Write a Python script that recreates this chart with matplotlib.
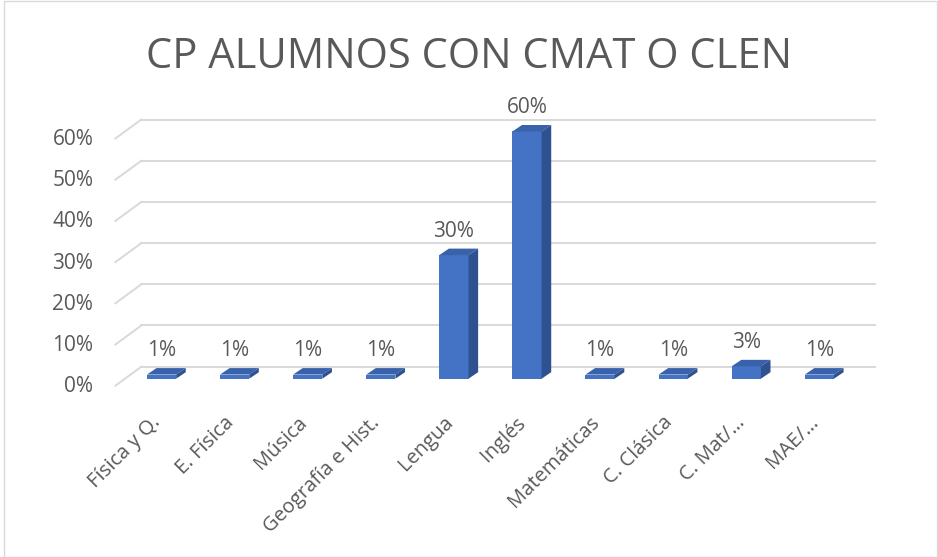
import matplotlib.pyplot as plt
from matplotlib.patches import Polygon, Rectangle

plt.rcParams['font.family'] = ['Open Sans', 'DejaVu Sans']

# data (percent of students)
categories = ['Física y Q.', 'E. Física', 'Música', 'Geografía e Hist.', 'Lengua',
              'Inglés', 'Matemáticas', 'C. Clásica', 'C. Mat/…', 'MAE/…']
values = [1, 1, 1, 1, 30, 60, 1, 1, 3, 1]
y_ticks = [0, 10, 20, 30, 40, 50, 60]

title = 'CP ALUMNOS CON CMAT O CLEN'
text_col = '#595959'
grid_col = '#d9d9d9'
front_col = '#4472C4'
top_col = '#3A62AB'
side_col = '#2E5290'

W, H = 938, 557
fig = plt.figure(figsize=(W / 100, H / 100), dpi=100)
ax = fig.add_axes([106.7 / W, (H - 378.7) / H, 767.5 / W, 247.2 / H])
ax.set_xlim(-0.75, 9.75)
ax.set_ylim(0, 60)
ax.axis('off')

# pixels per data unit, used for the fake 3d depth
p0 = ax.transData.transform((0, 0))
p1 = ax.transData.transform((1, 1))
kx, ky = p1[0] - p0[0], p1[1] - p0[1]


def px(x, y, dx, dy):
    return x + dx / kx, y + dy / ky


# back wall grid and left floor diagonals
back = (16.4, 12)
front = (-9.6, -7)
for v in y_ticks:
    x0, y0 = px(-0.5, v, *back)
    x1, y1 = px(9.53, v, *back)
    ax.plot([x0, x1], [y0, y1], color=grid_col, lw=1.4, clip_on=False, zorder=1)
    x2, y2 = px(-0.5, v, *front)
    ax.plot([x2, x0], [y2, y0], color=grid_col, lw=1.4, clip_on=False, zorder=1)
    tx, ty = px(-0.5, v, front[0] - 22, front[1] - 1)
    ax.text(tx, ty, f'{v}%', ha='right', va='center', fontsize=15, color=text_col)

# bars with a top and a side face
w = 0.40
bd = (9.6, 6.5)
xs = list(range(len(categories)))
ax.bar(xs, values, width=w, color=front_col, clip_on=False, zorder=3)
for x, v in zip(xs, values):
    l, r = x - w / 2, x + w / 2
    top = [(l, v), (r, v), px(r, v, *bd), px(l, v, *bd)]
    side = [(r, 0), px(r, 0, *bd), px(r, v, *bd), (r, v)]
    ax.add_patch(Polygon(top, closed=True, fc=top_col, ec='none', zorder=3, clip_on=False))
    ax.add_patch(Polygon(side, closed=True, fc=side_col, ec='none', zorder=3, clip_on=False))
    ax.annotate(f'{v}%', (x, v), xytext=(0, 24), textcoords='offset pixels',
                ha='center', va='center', fontsize=15, color=text_col)

# category labels along the front edge
for x, name in zip(xs, categories):
    ax.annotate(name, (x, 0), xytext=(-4, -41), textcoords='offset pixels',
                ha='right', va='center', rotation=45, rotation_mode='anchor',
                fontsize=14.5, color=text_col)

fig.text(0.5, 1 - 68 / H, title, ha='center', va='baseline', fontsize=30, color=text_col)

fig.patches.append(Rectangle((3.5 / W, 0.5 / H), (W - 5) / W, (H - 1.5) / H,
                             transform=fig.transFigure, fill=False, ec=grid_col, lw=1))

fig.savefig('out.png', dpi=100)
